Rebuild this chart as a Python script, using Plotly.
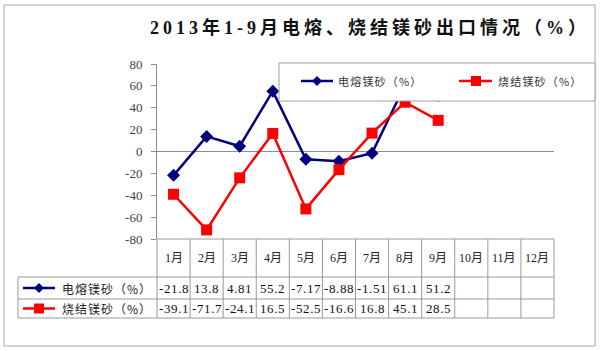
import plotly.graph_objects as go

# ---------------- data ----------------
months = ["1月", "2月", "3月", "4月", "5月", "6月", "7月", "8月", "9月", "10月", "11月", "12月"]
fused = [-21.8, 13.8, 4.81, 55.2, -7.17, -8.88, -1.51, 61.1, 51.2, None, None, None]
sintered = [-39.1, -71.7, -24.1, 16.5, -52.5, -16.6, 16.8, 45.1, 28.5, None, None, None]
series_names = ["电熔镁砂（%）", "烧结镁砂（%）"]
title_text = "2013年1-9月电熔、烧结镁砂出口情况（%）"
yticks = [-80, -60, -40, -20, 0, 20, 40, 60, 80]

# ---------------- geometry helpers ----------------
W, H = 600, 351
L, R, T, B = 157, 554, 64, 239


def px(x):
    return (x - L) / (R - L)


def py(y):
    return (B - y) / (B - T)


BLUE = "#000080"
RED = "#FF0000"
GRID = "#8c8c8c"
TBL = "#9a9a9a"
SERIF = "Liberation Serif, Noto Sans CJK SC, serif"
CJK = "Noto Sans CJK SC, sans-serif"

fig = go.Figure()
fig.add_trace(go.Scatter(x=months, y=fused, name=series_names[0], mode="lines+markers",
                         line=dict(color=BLUE, width=2.5),
                         marker=dict(symbol="diamond", size=10, color=BLUE),
                         connectgaps=False, showlegend=False))
fig.add_trace(go.Scatter(x=months, y=sintered, name=series_names[1], mode="lines+markers",
                         line=dict(color=RED, width=2.5),
                         marker=dict(symbol="square", size=11, color=RED),
                         connectgaps=False, showlegend=False))

shapes = []
annotations = []


def line(x0, y0, x1, y1, color=TBL, width=1, layer="below"):
    shapes.append(dict(type="line", xref="paper", yref="paper",
                       x0=px(x0), y0=py(y0), x1=px(x1), y1=py(y1),
                       line=dict(color=color, width=width), layer=layer))


def diamond(cx, cy, r, color):
    path = "M {} {} L {} {} L {} {} L {} {} Z".format(
        px(cx - r), py(cy), px(cx), py(cy - r), px(cx + r), py(cy), px(cx), py(cy + r))
    shapes.append(dict(type="path", xref="paper", yref="paper", path=path,
                       fillcolor=color, line=dict(color=color, width=0), layer="above"))


def square(cx, cy, r, color):
    shapes.append(dict(type="rect", xref="paper", yref="paper",
                       x0=px(cx - r), y0=py(cy + r), x1=px(cx + r), y1=py(cy - r),
                       fillcolor=color, line=dict(color=color, width=0), layer="above"))


# outer chart border
shapes.append(dict(type="rect", xref="paper", yref="paper",
                   x0=px(4), y0=py(346), x1=px(595), y1=py(5),
                   line=dict(color="#a6a6a6", width=1), layer="below"))

# data table grid
n = len(months)
cw = (R - L) / n
row_top, row1, row2, row3 = 239, 277, 299, 318
line(L, row_top, R, row_top)
for yy in (row1, row2, row3):
    line(18, yy, R, yy)
for i in range(n + 1):
    xx = L + i * cw
    line(xx, row_top, xx, row3)
line(18, row1, 18, row3)

# table text
for i, m in enumerate(months):
    cx = L + (i + 0.5) * cw
    annotations.append(dict(x=px(cx), y=py((row_top + row1) / 2), xref="paper", yref="paper",
                            text=m, showarrow=False, xanchor="center", yanchor="middle",
                            font=dict(family=SERIF, size=12, color="#222")))
    for vals, yc in ((fused, (row1 + row2) / 2), (sintered, (row2 + row3) / 2)):
        v = vals[i]
        if v is not None:
            annotations.append(dict(x=px(cx), y=py(yc), xref="paper", yref="paper",
                                    text='<span style="letter-spacing:0.6px">' + str(v) + "</span>",
                                    showarrow=False, xanchor="center", yanchor="middle",
                                    font=dict(family=SERIF, size=13, color="#111")))

# table row keys
for k, (yc, col, sym) in enumerate((((row1 + row2) / 2, BLUE, "d"), ((row2 + row3) / 2, RED, "s"))):
    line(23, yc, 55, yc, color=col, width=2.5, layer="above")
    if sym == "d":
        diamond(39, yc, 5, col)
    else:
        square(39, yc, 5, col)
    annotations.append(dict(x=px(60), y=py(yc), xref="paper", yref="paper",
                            text='<span style="letter-spacing:1px">' + series_names[k] + "</span>",
                            showarrow=False, xanchor="left", yanchor="middle",
                            font=dict(family=CJK, size=12, color="#222")))

# legend box (drawn above the plot lines)
shapes.append(dict(type="rect", xref="paper", yref="paper",
                   x0=px(279), y0=py(101), x1=px(595), y1=py(63),
                   fillcolor="white", line=dict(color="#a0a0a0", width=1), layer="above"))
leg_y = 81
line(301, leg_y, 333, leg_y, color=BLUE, width=2.5, layer="above")
diamond(317, leg_y, 5, BLUE)
line(459, leg_y, 492, leg_y, color=RED, width=2.5, layer="above")
square(476, leg_y, 5, RED)
for xx, nm in ((336, series_names[0]), (496, series_names[1])):
    annotations.append(dict(x=px(xx), y=py(leg_y), xref="paper", yref="paper",
                            text='<span style="letter-spacing:1.2px">' + nm + "</span>",
                            showarrow=False, xanchor="left", yanchor="middle",
                            font=dict(family=CJK, size=11, color="#333")))

# title
annotations.append(dict(x=px(370), y=py(28), xref="paper", yref="paper",
                        text='<b><span style="letter-spacing:4px">' + title_text + "</span></b>",
                        showarrow=False, xanchor="center", yanchor="middle",
                        font=dict(family="Liberation Serif, Noto Sans CJK SC, serif", size=18, color="#111")))

fig.update_layout(
    width=W, height=H,
    margin=dict(l=L, r=W - R, t=T, b=H - B, pad=0),
    paper_bgcolor="white", plot_bgcolor="white",
    showlegend=False,
    shapes=shapes, annotations=annotations,
    xaxis=dict(range=[-0.5, n - 0.5], showticklabels=False, showgrid=False,
               zeroline=False, showline=False, ticks=""),
    yaxis=dict(range=[-80, 80], tickvals=yticks, ticktext=[str(v) for v in yticks],
               showgrid=False, showline=True, linecolor=GRID, linewidth=1,
               ticks="outside", ticklen=5, tickcolor=GRID,
               zeroline=True, zerolinecolor=GRID, zerolinewidth=1,
               tickfont=dict(family="Liberation Serif", size=13, color="#444"),
               ticklabelstandoff=6),
)

fig.write_html("out.html")
